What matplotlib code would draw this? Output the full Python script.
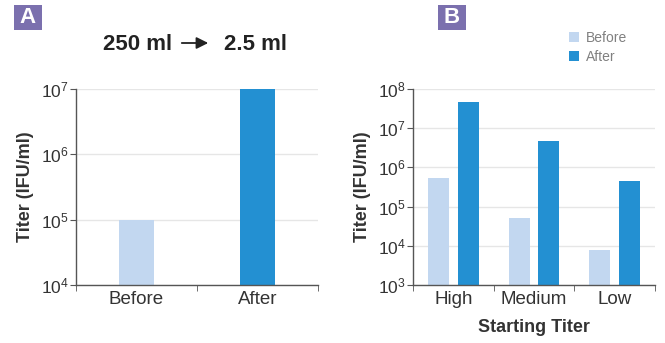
import matplotlib
matplotlib.use("Agg")
import matplotlib.pyplot as plt
import matplotlib.ticker as mticker
from matplotlib.patches import Rectangle
import numpy as np

plt.rcParams['font.family'] = ['Liberation Sans', 'DejaVu Sans']

# Data
a_categories = ["Before", "After"]
a_values = [1e5, 1e7]

b_categories = ["High", "Medium", "Low"]
b_before = [5.4e5, 5.2e4, 7.8e3]
b_after = [4.7e7, 4.7e6, 4.4e5]

LIGHT = "#C2D7F0"
DARK = "#2390D2"
SPINE = "#555555"
GRID = "#E6E6E6"
TXT = "#333333"

fig = plt.figure(figsize=(6.65, 3.43), dpi=100)
W, H = 665, 343

def add_ax(x0, x1, ytop, ybot):
    return fig.add_axes([x0 / W, 1 - ybot / H, (x1 - x0) / W, (ybot - ytop) / H])

def style(ax, ylo, yhi):
    ax.set_yscale('log')
    ax.set_ylim(ylo, yhi)
    ax.yaxis.set_major_locator(mticker.LogLocator(base=10, numticks=20))
    ax.yaxis.set_minor_locator(mticker.NullLocator())
    for s in ['top', 'right']:
        ax.spines[s].set_visible(False)
    for s in ['left', 'bottom']:
        ax.spines[s].set_color(SPINE)
        ax.spines[s].set_linewidth(1.0)
    ax.grid(axis='y', color=GRID, linewidth=1.0, zorder=0)
    ax.set_axisbelow(True)
    ax.tick_params(axis='y', length=4, color=SPINE, labelsize=12.5, labelcolor=TXT, pad=1)
    ax.tick_params(axis='x', which='major', length=0, labelsize=13.5, labelcolor=TXT, pad=4)
    ax.tick_params(axis='x', which='minor', length=4, color=SPINE)
    ax.set_ylabel("Titer (IFU/ml)", fontsize=13, fontweight='bold', color=TXT, labelpad=5)

# Panel A
axA = add_ax(76, 318, 89, 285)
xa = np.arange(len(a_categories))
axA.bar(xa, a_values, width=0.29, color=[LIGHT, DARK], zorder=2)
axA.set_xlim(-0.5, len(a_categories) - 0.5)
style(axA, 1e4, 1e7)
axA.set_xticks(xa)
axA.set_xticklabels(a_categories)
axA.set_xticks(np.arange(len(a_categories) + 1) - 0.5, minor=True)

# Panel B
axB = add_ax(413, 655, 89, 285)
xb = np.arange(len(b_categories))
off = 0.185
bw = 0.26
axB.bar(xb - off, b_before, width=bw, color=LIGHT, zorder=2, label="Before")
axB.bar(xb + off, b_after, width=bw, color=DARK, zorder=2, label="After")
axB.set_xlim(-0.5, len(b_categories) - 0.5)
style(axB, 1e3, 1e8)
axB.set_xticks(xb)
axB.set_xticklabels(b_categories)
axB.set_xticks(np.arange(len(b_categories) + 1) - 0.5, minor=True)
axB.set_xlabel("Starting Titer", fontsize=13, fontweight='bold', color=TXT, labelpad=8)

leg = axB.legend(loc='upper left', bbox_to_anchor=(562 / W, 1 - 24 / H),
                 bbox_transform=fig.transFigure, frameon=False, fontsize=10,
                 handlelength=0.75, handleheight=0.75, handletextpad=0.5,
                 labelspacing=0.35, borderpad=0)
for t in leg.get_texts():
    t.set_color("#808080")

# Title A
fig.text(172 / W, 1 - 44 / H, "250 ml", ha='right', va='center',
         fontsize=16, fontweight='bold', color="#222222")
fig.text(224 / W, 1 - 44 / H, "2.5 ml", ha='left', va='center',
         fontsize=16, fontweight='bold', color="#222222")
fig.add_artist(matplotlib.patches.FancyArrowPatch(
    (179 / W, 1 - 43 / H), (211 / W, 1 - 43 / H), transform=fig.transFigure,
    arrowstyle='-|>,head_length=0.5,head_width=0.25', mutation_scale=14,
    color="#222222", linewidth=1.3))

# Panel labels
for lab, x0 in [("A", 14), ("B", 438)]:
    fig.add_artist(Rectangle((x0 / W, 1 - 30 / H), 28 / W, 25 / H,
                             transform=fig.transFigure, facecolor='#7B70AE',
                             edgecolor='none'))
    fig.text((x0 + 14) / W, 1 - 17.5 / H, lab, ha='center', va='center', fontsize=16,
             fontweight='bold', color='white')

fig.savefig("out.png", dpi=100)
